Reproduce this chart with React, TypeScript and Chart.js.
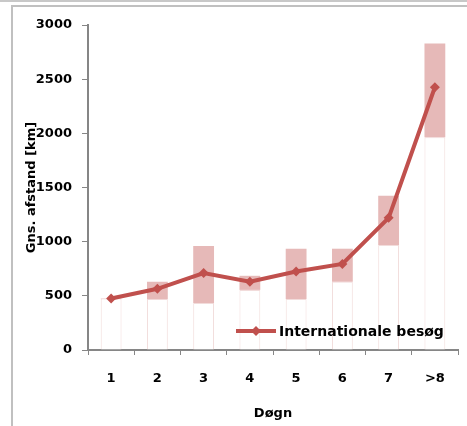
import React, { useEffect, useRef } from 'react';
import { Chart, registerables } from 'chart.js';

Chart.register(...registerables);

const categories = ['1', '2', '3', '4', '5', '6', '7', '>8'];
const averageKm = [475, 565, 710, 630, 725, 795, 1220, 2425];
const rangeLow = [475, 470, 435, 555, 470, 630, 970, 1965];
const rangeHigh = [478, 630, 960, 685, 935, 935, 1425, 2830];
const yTicks = [0, 500, 1000, 1500, 2000, 2500, 3000];
const seriesLabel = 'Internationale besøg';
const xTitle = 'Døgn';
const yTitle = 'Gns. afstand [km]';

const RED = '#c0504d';
const PINK = '#e6b9b8';
const FAINT = '#f2dcdb';
const AXIS = '#868686';
const FONT = '"DejaVu Sans", sans-serif';

const insideLegend = {
  id: 'insideLegend',
  afterDraw(chart: any) {
    const { ctx, chartArea } = chart;
    const y = chartArea.bottom - 19;
    const x0 = chartArea.left + 148;
    const x1 = chartArea.left + 188;
    ctx.save();
    ctx.strokeStyle = RED;
    ctx.lineWidth = 4;
    ctx.beginPath();
    ctx.moveTo(x0, y);
    ctx.lineTo(x1, y);
    ctx.stroke();
    const cx = (x0 + x1) / 2;
    ctx.fillStyle = RED;
    ctx.beginPath();
    ctx.moveTo(cx - 5, y);
    ctx.lineTo(cx, y - 5);
    ctx.lineTo(cx + 5, y);
    ctx.lineTo(cx, y + 5);
    ctx.closePath();
    ctx.fill();
    ctx.fillStyle = '#000';
    ctx.font = 'bold 14px ' + FONT;
    ctx.textBaseline = 'middle';
    ctx.textAlign = 'left';
    ctx.fillText(seriesLabel, x1 + 3, y + 1);
    ctx.restore();
  },
};

export default function App() {
  const ref = useRef<HTMLCanvasElement>(null);
  useEffect(() => {
    if (!ref.current) return;
    const chart = new Chart(ref.current, {
      type: 'bar',
      data: {
        labels: categories,
        datasets: [
          {
            type: 'line',
            label: seriesLabel,
            data: averageKm,
            borderColor: RED,
            backgroundColor: RED,
            borderWidth: 4,
            pointStyle: 'rectRot',
            pointRadius: 5,
            pointBackgroundColor: RED,
            pointBorderWidth: 0,
            tension: 0,
            order: 0,
          } as any,
          {
            type: 'bar',
            label: 'range',
            data: categories.map((_, i) => [rangeLow[i], rangeHigh[i]]),
            backgroundColor: PINK,
            borderWidth: 0,
            grouped: false,
            order: 1,
          } as any,
          {
            type: 'bar',
            label: 'base',
            data: categories.map((_, i) => [0, rangeLow[i]]),
            backgroundColor: '#ffffff',
            borderColor: FAINT,
            borderWidth: 1,
            grouped: false,
            order: 2,
          } as any,
        ],
      },
      options: {
        responsive: false,
        animation: false,
        devicePixelRatio: 1,
        layout: { padding: { top: 25, right: 9, left: 0, bottom: 0 } },
        datasets: { bar: { barPercentage: 0.45, categoryPercentage: 1 } },
        plugins: { legend: { display: false }, tooltip: { enabled: false } },
        scales: {
          x: {
            offset: true,
            grid: {
              offset: true,
              drawOnChartArea: false,
              drawTicks: true,
              tickLength: 5,
              color: AXIS,
              lineWidth: 1,
            },
            border: { color: AXIS, width: 2 },
            ticks: {
              color: '#000',
              font: { family: FONT, size: 13, weight: 'bold' },
              padding: 16,
              maxRotation: 0,
            },
            title: {
              display: true,
              text: xTitle,
              color: '#000',
              font: { family: FONT, size: 13, weight: 'bold' },
              padding: { top: 0, bottom: 5 },
            },
            afterFit: (s: any) => {
              s.height = 76;
            },
          },
          y: {
            min: 0,
            max: 3000,
            afterBuildTicks: (s: any) => {
              s.ticks = yTicks.map((v) => ({ value: v }));
            },
            grid: {
              drawOnChartArea: false,
              drawTicks: true,
              tickLength: 6,
              color: AXIS,
            },
            border: { color: AXIS, width: 2 },
            ticks: {
              color: '#000',
              font: { family: FONT, size: 13, weight: 'bold' },
              padding: 10,
              callback: (v: any) => String(v),
            },
            title: {
              display: true,
              text: yTitle,
              color: '#000',
              font: { family: FONT, size: 13, weight: 'bold' },
              padding: { top: 24, bottom: 0 },
            },
            afterFit: (s: any) => {
              s.width = 88;
            },
          },
        },
      },
      plugins: [insideLegend],
    });
    return () => chart.destroy();
  }, []);

  return (
    <div
      style={{
        position: 'fixed',
        left: 0,
        top: 0,
        width: 467,
        height: 426,
        background: '#fff',
        overflow: 'hidden',
      }}
    >
      <div
        style={{
          position: 'absolute',
          left: 0,
          top: 0,
          width: 467,
          height: 0,
          borderTop: '2px solid #c8c8c8',
        }}
      />
      <div
        style={{
          position: 'absolute',
          left: 11,
          top: 5,
          width: 480,
          height: 440,
          borderTop: '2px solid #c0c0c0',
          borderLeft: '2px solid #c0c0c0',
        }}
      />
      <canvas
        ref={ref}
        width={467}
        height={426}
        style={{ position: 'absolute', left: 0, top: 0, width: 467, height: 426 }}
      />
    </div>
  );
}
